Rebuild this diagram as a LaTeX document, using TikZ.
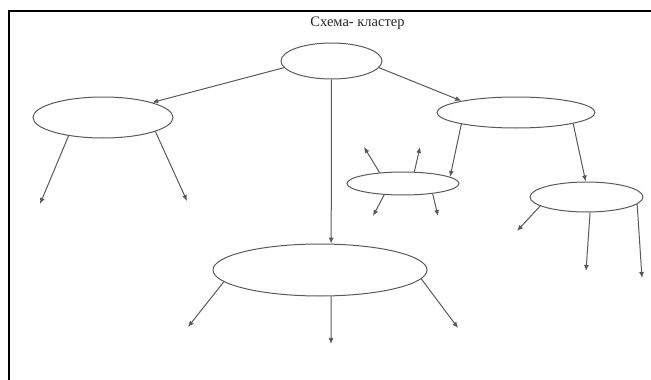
\documentclass[tikz,border=0pt]{standalone}
\usepackage{fontspec}
\setmainfont{Liberation Serif}
\usetikzlibrary{arrows.meta,shapes.geometric}
\begin{document}
\begin{tikzpicture}[x=1pt,y=-1pt,
  oval/.style={ellipse,draw=black!65,line width=1pt,inner sep=0pt},
  arr/.style={draw=black!65,line width=1pt,-{Latex[length=6pt,width=5pt]}},
  frame/.style={draw=black,line width=1.5pt}]
\useasboundingbox (0,0) rectangle (651,380);
\draw[frame] (9,380) -- (9,11) -- (651,11);
\node[font=\fontsize{14.5}{16}\selectfont,text=black!85] (title) at (357.5,23) {Схема- кластер};
% ellipses
\node[oval,minimum width=101pt,minimum height=36pt] (T) at (331.5,61) {};
\node[oval,minimum width=140pt,minimum height=41pt] (L) at (103,117.5) {};
\node[oval,minimum width=158pt,minimum height=31pt] (R) at (516,112.5) {};
\node[oval,minimum width=112pt,minimum height=23pt] (M) at (403,183.5) {};
\node[oval,minimum width=113pt,minimum height=30pt] (S) at (586.5,197) {};
\node[oval,minimum width=214pt,minimum height=52pt] (B) at (320,270) {};
% free ends
\coordinate (l1) at (40,204);
\coordinate (l2) at (187,201);
\coordinate (m1) at (364,147);
\coordinate (m2) at (420,147);
\coordinate (m3) at (373,216);
\coordinate (m4) at (438,216);
\coordinate (s1) at (517,231);
\coordinate (s2) at (586,271);
\coordinate (s3) at (642,278);
\coordinate (b1) at (188,327);
\coordinate (b2) at (331,344);
\coordinate (b3) at (458,328);
% connectors
\draw[arr] (T.188) -- (L.17);
\draw[arr] (T.352) -- (R.168);
\draw[arr] (T.south) -- (B.67);
\draw[arr] (R.192) -- (M.8);
\draw[arr] (R.349) -- (S.93);
\draw[arr] (L.208) -- (l1);
\draw[arr] (L.345) -- (l2);
\draw[arr] (M.155) -- (m1);
\draw[arr] (M.46) -- (m2);
\draw[arr] (M.211) -- (m3);
\draw[arr] (M.341) -- (m4);
\draw[arr] (S.191) -- (s1);
\draw[arr] (S.283) -- (s2);
\draw[arr] (S.352) -- (s3);
\draw[arr] (B.187.5) -- (b1);
\draw[arr] (B.293) -- (b2);
\draw[arr] (B.355) -- (b3);
\end{tikzpicture}
\end{document}
